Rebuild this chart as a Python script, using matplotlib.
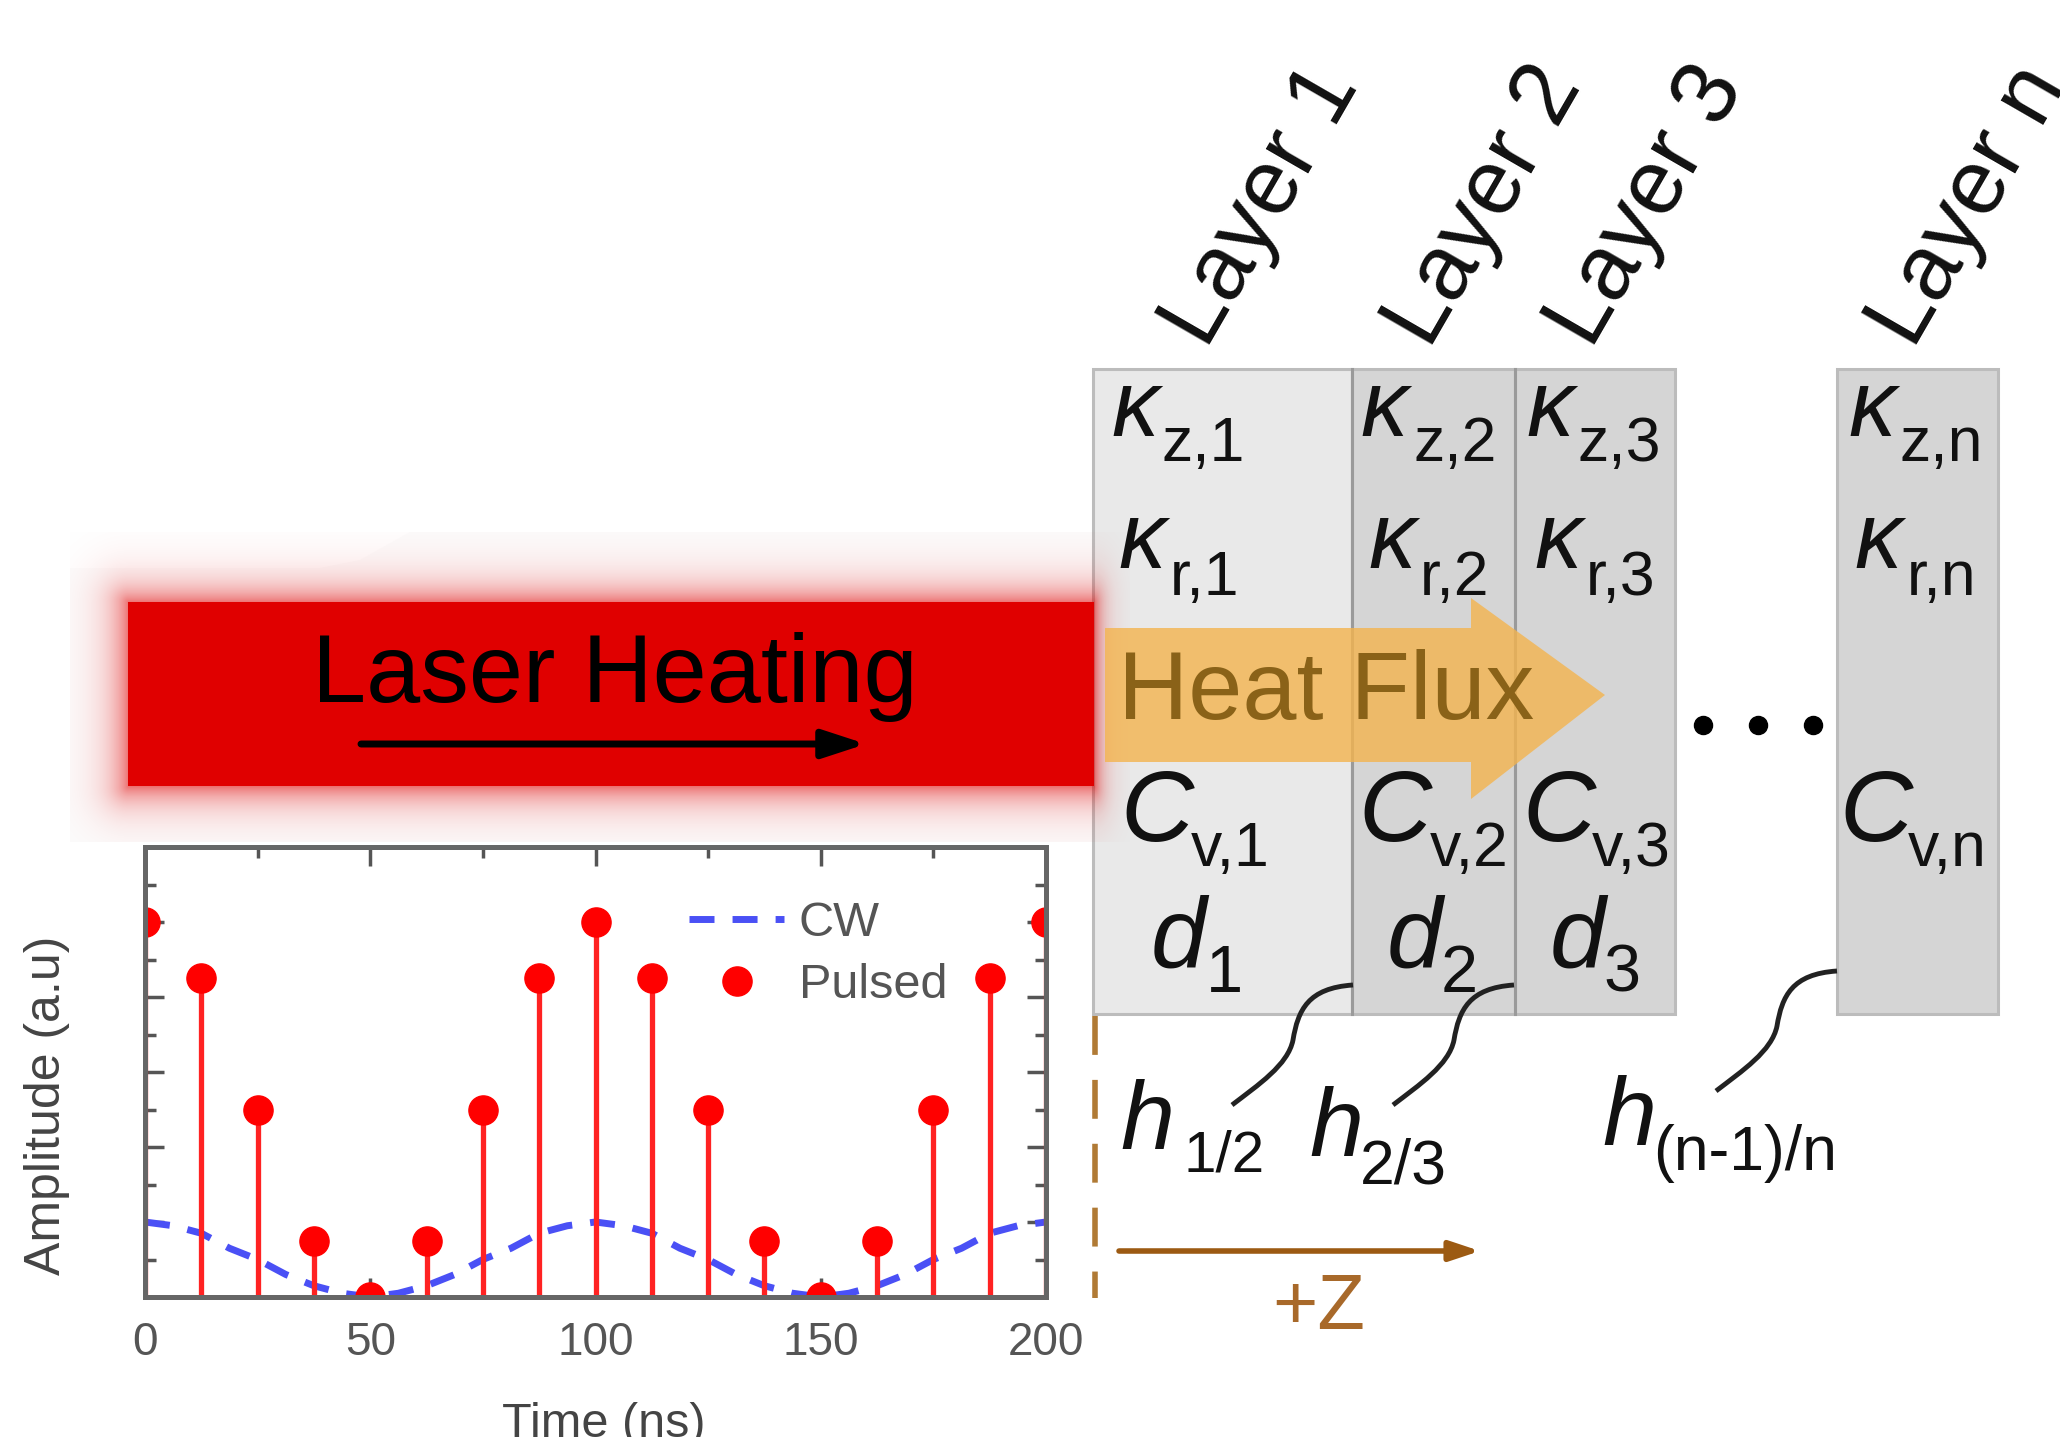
import numpy as np
import matplotlib
matplotlib.use("Agg")
import matplotlib.pyplot as plt
from matplotlib.patches import Rectangle, Polygon, PathPatch
from matplotlib.path import Path

plt.rcParams['font.family'] = ['Liberation Sans', 'DejaVu Sans']

# data
pulse_time = [0, 12.5, 25, 37.5, 50, 62.5, 75, 87.5, 100, 112.5, 125, 137.5, 150, 162.5, 175, 187.5, 200]
pulse_amp = [1.0, 0.85, 0.5, 0.15, 0.0, 0.15, 0.5, 0.85, 1.0, 0.85, 0.5, 0.15, 0.0, 0.15, 0.5, 0.85, 1.0]
cw_time = [0, 6.25, 12.5, 18.75, 25, 31.25, 37.5, 43.75, 50, 56.25, 62.5, 68.75, 75, 81.25, 87.5, 93.75,
           100, 106.25, 112.5, 118.75, 125, 131.25, 137.5, 143.75, 150, 156.25, 162.5, 168.75, 175,
           181.25, 187.5, 193.75, 200]
cw_amp = [0.2, 0.19, 0.17, 0.13, 0.1, 0.06, 0.03, 0.01, 0.0, 0.01, 0.03, 0.06, 0.1, 0.13, 0.17, 0.19,
          0.2, 0.19, 0.17, 0.13, 0.1, 0.06, 0.03, 0.01, 0.0, 0.01, 0.03, 0.06, 0.1, 0.13, 0.17, 0.19, 0.2]
x_ticks = [0, 50, 100, 150, 200]

layer_names = ['Layer 1', 'Layer 2', 'Layer 3', 'Layer n']
layer_edges = [(1093, 1352), (1352, 1515), (1515, 1675), (1837, 1998)]
layer_fills = ['#e9e9e9', '#d5d5d5', '#d5d5d5', '#d5d5d5']
layer_label_x = [1207, 1430, 1592, 1914]

W, H = 2060, 1437
fig = plt.figure(figsize=(W / 100, H / 100), dpi=100, facecolor='white')

# whole figure in pixel coordinates for the diagram
bg = fig.add_axes([0, 0, 1, 1])
bg.set_xlim(0, W)
bg.set_ylim(H, 0)
bg.axis('off')

### Laser beam with its glow
bg.add_patch(Polygon([(70, 568), (320, 568), (360, 560), (410, 532), (1092, 532), (1092, 842), (70, 842)],
                     fc='#fcfcfc', ec='none', zorder=0))
gx, gy = np.meshgrid(np.arange(70, 1130), np.arange(532, 842))
ddx = np.maximum(np.maximum(128 - gx, (gx - 1094) * 2), 0)
ddy = np.maximum(np.maximum(602 - gy, gy - 786), 0)
dist = np.hypot(ddx, ddy)
glow = np.zeros(gx.shape + (4,))
glow[..., 0] = 0.88
glow[..., 3] = 0.55 * np.exp(-dist / 19.0)
bg.imshow(glow, extent=(70, 1130, 842, 532), zorder=2, aspect='auto', interpolation='bilinear')
bg.set_xlim(0, W)
bg.set_ylim(H, 0)
bg.add_patch(Rectangle((128, 602), 966, 184, fc='#e00000', ec='none', zorder=3))
bg.text(312, 702, 'Laser Heating', fontsize=70, color='black', ha='left', va='baseline', zorder=6)
bg.annotate('', xy=(866, 744), xytext=(361, 744), zorder=6,
            arrowprops=dict(arrowstyle='-|>,head_length=2.6,head_width=0.85', lw=5, color='black',
                            shrinkA=0, shrinkB=0))

### Layers
for (x0, x1), fill in zip(layer_edges, layer_fills):
    bg.add_patch(Rectangle((x0, 369), x1 - x0, 645, fc=fill, ec='#bcbcbc', lw=2.2, zorder=1))
for xi in [1352, 1515]:
    bg.plot([xi, xi], [369, 1014], color='#9a9a9a', lw=2.2, zorder=1)
for name, xl in zip(layer_names, layer_label_x):
    bg.text(xl, 350, name, fontsize=66, rotation=60, rotation_mode='anchor',
            ha='left', va='baseline', color='#111111', clip_on=True)


def sym(x, y, main, sub_x, sub_y, sub, size=68, sub_size=45):
    bg.text(x, y, main, fontsize=size, style='italic', color='#111111', ha='left', va='baseline', zorder=5)
    bg.text(sub_x, sub_y, sub, fontsize=sub_size, color='#111111', ha='left', va='baseline', zorder=5)


# kappa_z, kappa_r, C_v, d per layer
sym(1111, 436, '\u03ba', 1162, 461, 'z,1')
sym(1360, 436, '\u03ba', 1414, 461, 'z,2')
sym(1526, 436, '\u03ba', 1578, 461, 'z,3')
sym(1848, 436, '\u03ba', 1899, 461, 'z,n')
sym(1118, 568, '\u03ba', 1170, 595, 'r,1')
sym(1368, 568, '\u03ba', 1420, 595, 'r,2')
sym(1534, 568, '\u03ba', 1586, 595, 'r,3')
sym(1854, 568, '\u03ba', 1907, 595, 'r,n')
sym(1120, 841, 'C', 1191, 866, 'v,1', size=73)
sym(1358, 841, 'C', 1430, 866, 'v,2', size=73)
sym(1522, 841, 'C', 1592, 866, 'v,3', size=73)
sym(1839, 841, 'C', 1908, 866, 'v,n', size=73)
sym(1151, 968, 'd', 1206, 992, '1', size=72, sub_size=48)
sym(1387, 968, 'd', 1441, 992, '2', size=72, sub_size=48)
sym(1550, 968, 'd', 1603, 992, '3', size=72, sub_size=48)

### Heat flux arrow
bg.add_patch(Polygon([(1105, 628), (1471, 628), (1471, 598), (1605, 695), (1471, 799), (1471, 762), (1105, 762)],
                     fc='#f4b44e', ec='none', alpha=0.8, zorder=4))
bg.text(1118, 719, 'Heat Flux', fontsize=70, color='#8a6218', ha='left', va='baseline', zorder=5)

# dots between layer 3 and layer n
bg.plot([1703, 1758, 1813], [725, 725, 725], ls='none', marker='o', ms=13, color='black', zorder=5)

### Interface conductances
sym(1120, 1149, 'h', 1184, 1172, '1/2', size=70, sub_size=42)
sym(1309, 1156, 'h', 1360, 1183, '2/3', size=70, sub_size=45)
sym(1602, 1145, 'h', 1653, 1170, '(n-1)/n', size=70, sub_size=45)
curve_codes = [Path.MOVETO, Path.CURVE4, Path.CURVE4, Path.CURVE4, Path.CURVE4, Path.CURVE4, Path.CURVE4]
for x0, y0 in [(1353, 985), (1514, 985), (1837, 971)]:
    verts = [(x0, y0), (x0 - 45, y0 + 3), (x0 - 55, y0 + 25), (x0 - 60, y0 + 55),
             (x0 - 65, y0 + 80), (x0 - 95, y0 + 100), (x0 - 121, y0 + 120)]
    bg.add_patch(PathPatch(Path(verts, curve_codes), fc='none', ec='#222222', lw=3.5, zorder=5))

### +Z axis
bg.plot([1095, 1095], [1016, 1298], color='#b07a35', lw=4, dashes=(7, 4.5), zorder=1)
bg.annotate('', xy=(1480, 1251), xytext=(1119, 1251),
            arrowprops=dict(arrowstyle='-|>,head_length=1.8,head_width=0.6', lw=4, color='#9c5a12',
                            shrinkA=0, shrinkB=0))
bg.text(1272, 1329, '+Z', fontsize=56, color='#a8692a', ha='left', va='baseline')

### Amplitude panel
ax = fig.add_axes([145 / W, 1 - 1297 / H, 901 / W, 450 / H])
ax.patch.set_alpha(0)
cw_line, = ax.plot(cw_time, cw_amp, color='#4a50f5', lw=5, dashes=(3.6, 2.6), label='CW')
markers, stems, base = ax.stem(pulse_time, pulse_amp, linefmt='-', markerfmt='o', basefmt=' ')
stems.set_color('#ff2222')
stems.set_linewidth(3.8)
markers.set_color('#ff0000')
markers.set_markersize(21)
pulsed = ax.plot([], [], ls='none', marker='o', ms=21, color='#ff0000', label='Pulsed')[0]
ax.set_xlim(0, 200)
ax.set_ylim(0, 1.2)
ax.set_xticks(x_ticks)
ax.set_xticks(pulse_time[2::4], minor=True)
ax.set_yticks(np.arange(0, 1.21, 0.2))
ax.set_yticks(np.arange(0.1, 1.2, 0.2), minor=True)
ax.set_yticklabels([])
ax.tick_params(which='major', direction='in', top=True, right=True, length=14, width=2.5, color='#555555',
               labelsize=33, labelcolor='#555555', pad=17)
ax.tick_params(which='minor', direction='in', top=True, right=True, length=8, width=2.5, color='#555555')
for s in ax.spines.values():
    s.set_color('#666666')
    s.set_linewidth(3.6)
ax.legend(handles=[cw_line, pulsed], loc='upper left', bbox_to_anchor=(0.604, 0.88), frameon=False,
          fontsize=35, labelcolor='#555555', handlelength=1.95, handletextpad=0.3, labelspacing=0.35,
          borderpad=0, borderaxespad=0)
bg.text(604, 1437, 'Time (ns)', fontsize=35, color='#444444', ha='center', va='baseline')
bg.text(60, 1105, 'Amplitude (a.u)', fontsize=36, color='#444444', rotation=90, rotation_mode='anchor',
        ha='center', va='baseline')

fig.savefig('out.png', dpi=100)
